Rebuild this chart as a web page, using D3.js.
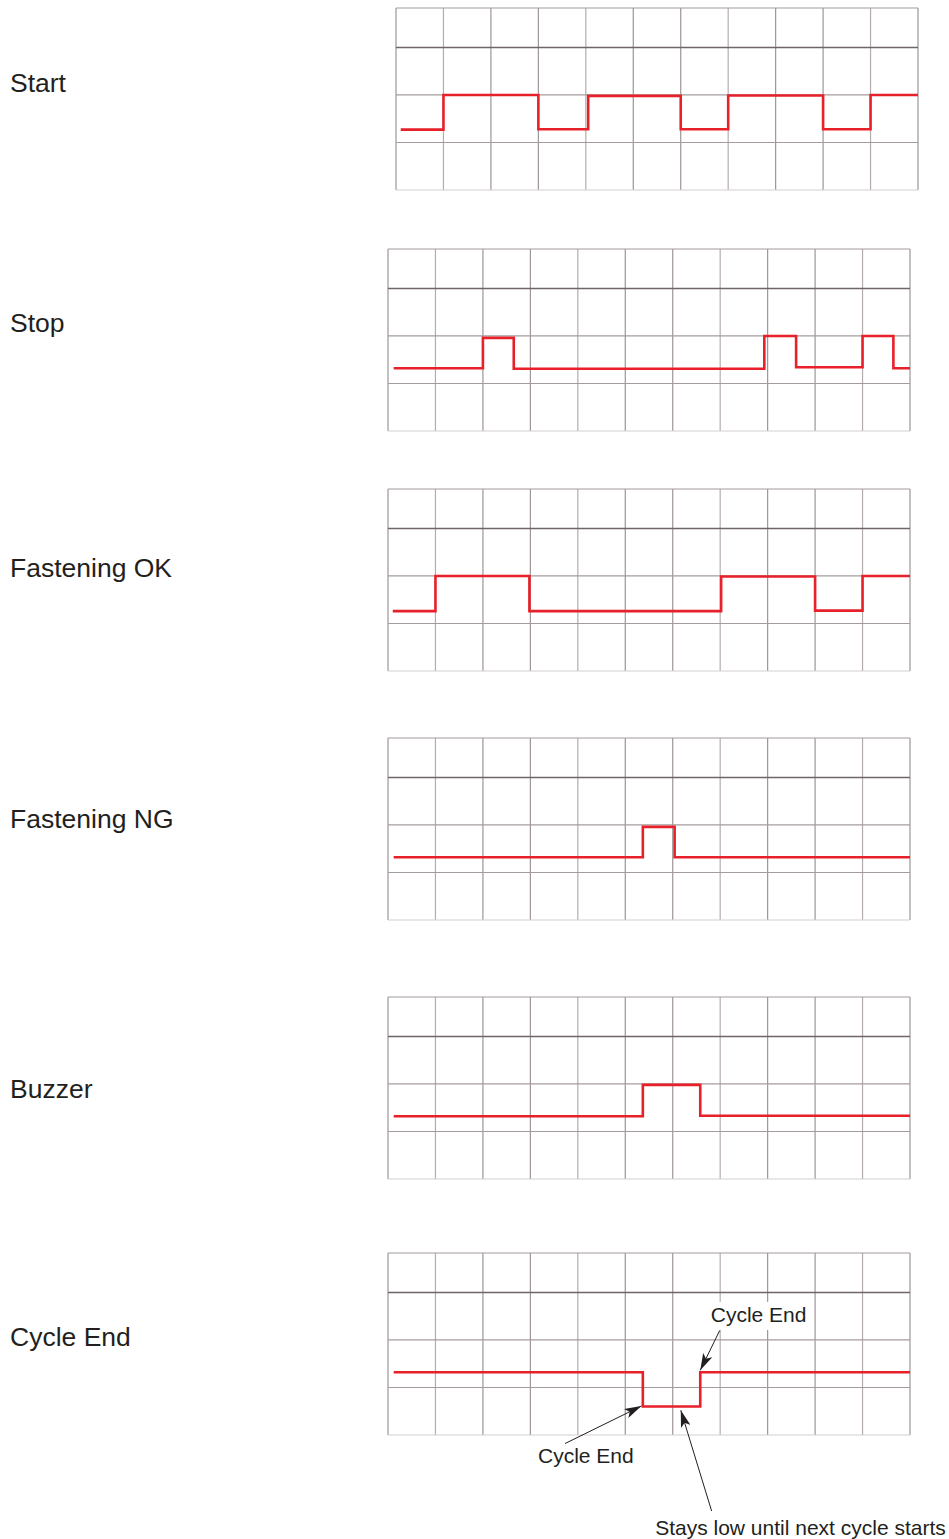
<!DOCTYPE html>
<html>
<head>
<meta charset="utf-8">
<script src="https://cdn.jsdelivr.net/npm/d3@7"></script>
<style>
  html, body { margin: 0; padding: 0; background: #fff; }
  svg { display: block; }
  text { font-family: "Liberation Sans", Arial, Helvetica, sans-serif; fill: #231f20; }
</style>
</head>
<body>
<svg id="chart" width="949" height="1539"></svg>
<script>
// ---------------- DATA ----------------
const signalNames = ["Start", "Stop", "Fastening OK", "Fastening NG", "Buzzer", "Cycle End"];

// grid divisions (time columns) and level gridlines
const timeTicks = [0, 1, 2, 3, 4, 5, 6, 7, 8, 9, 10, 11];
const levelTicks = [0, 1, 2, 3];
const levelMax = 3.83;

// step breakpoints: [time (grid divisions), level (grid divisions)]
const startSteps = [[0.1, 1.27], [1.0, 2.0], [3.0, 1.28], [4.05, 1.98], [6.0, 1.28], [7.0, 1.99], [9.0, 1.28], [10.0, 2.0], [11.0, 2.0]];
const stopSteps = [[0.12, 1.32], [2.0, 1.96], [2.65, 1.31], [7.93, 2.0], [8.6, 1.34], [10.0, 2.0], [10.65, 1.32], [11.0, 1.32]];
const fastenOkSteps = [[0.1, 1.26], [1.0, 2.0], [2.98, 1.26], [7.02, 1.99], [9.0, 1.27], [10.0, 2.0], [11.0, 2.0]];
const fastenNgSteps = [[0.12, 1.32], [5.37, 1.96], [6.04, 1.32], [11.0, 1.32]];
const buzzerSteps = [[0.12, 1.32], [5.37, 1.98], [6.58, 1.33], [11.0, 1.33]];
const cycleEndSteps = [[0.12, 1.32], [5.37, 0.6], [6.58, 1.32], [11.0, 1.32]];

const allSteps = [startSteps, stopSteps, fastenOkSteps, fastenNgSteps, buzzerSteps, cycleEndSteps];

const annotationTexts = ["Cycle End", "Cycle End", "Stays low until next cycle starts"];

// ---------------- LAYOUT ----------------
const panelLayout = [
  { left: 396, top: 8,    labelBaseline: 92 },
  { left: 388, top: 249,  labelBaseline: 332 },
  { left: 388, top: 489,  labelBaseline: 577 },
  { left: 388, top: 738,  labelBaseline: 828 },
  { left: 388, top: 997,  labelBaseline: 1098 },
  { left: 388, top: 1253, labelBaseline: 1346 }
];
const panelW = 522, panelH = 182;

// annotation geometry in data units of the last panel
const annotationLayout = [
  { tx: 7.81, ty: 2.38, anchor: "middle", box: true,  from: [6.99, 2.2],  to: [6.58, 1.36] },
  { tx: 4.17, ty: -0.58, anchor: "middle", box: false, from: [3.73, -0.18], to: [5.34, 0.61] },
  { tx: 5.63, ty: -2.1, anchor: "start",  box: false, from: [6.82, -1.6],  to: [6.17, 0.52] }
];

const svg = d3.select("#chart");
const defs = svg.append("defs");
defs.append("marker")
  .attr("id", "arrow")
  .attr("viewBox", "0 0 17 10")
  .attr("refX", 17).attr("refY", 5)
  .attr("markerWidth", 17).attr("markerHeight", 10)
  .attr("markerUnits", "userSpaceOnUse")
  .attr("orient", "auto")
  .append("path")
  .attr("d", "M0,0 L17,5 L0,10 L4,5 Z")
  .attr("fill", "#231f20");

signalNames.forEach((name, i) => {
  const L = panelLayout[i];
  const x = d3.scaleLinear().domain([0, 11]).range([L.left, L.left + panelW]);
  const y = d3.scaleLinear().domain([0, levelMax]).range([L.top + panelH, L.top]);
  const g = svg.append("g");

  // vertical grid lines
  g.selectAll("line.v").data(timeTicks).enter().append("line")
    .attr("x1", d => x(d)).attr("x2", d => x(d))
    .attr("y1", y(0)).attr("y2", y(levelMax))
    .attr("stroke", (d, j) => (j % 3 === 1 ? "#b5adad" : "#9e9595"))
    .attr("stroke-width", 1.2);

  // horizontal grid lines
  g.selectAll("line.h").data(levelTicks.concat([levelMax])).enter().append("line")
    .attr("x1", x(0)).attr("x2", x(11))
    .attr("y1", d => y(d)).attr("y2", d => y(d))
    .attr("stroke", d => d === 3 ? "#6e6565" : (d === 0 ? "#d6d0d0" : "#a49c9c"))
    .attr("stroke-width", d => d === 3 ? 1.4 : 1.2);

  // signal
  const line = d3.line().x(d => x(d[0])).y(d => y(d[1])).curve(d3.curveStepAfter);
  g.append("path")
    .datum(allSteps[i])
    .attr("d", line)
    .attr("fill", "none")
    .attr("stroke", "#e8202a")
    .attr("stroke-width", 2.6)
    .attr("stroke-linejoin", "miter");

  // label
  svg.append("text")
    .attr("x", 10).attr("y", L.labelBaseline)
    .attr("font-size", 26.5)
    .text(name);

  // annotations on last panel
  if (i === signalNames.length - 1) {
    annotationTexts.forEach((t, k) => {
      const A = annotationLayout[k];
      if (A.box) {
        const w = 107, h = 28;
        svg.append("rect")
          .attr("x", x(A.tx) - w / 2).attr("y", y(A.ty) - 20)
          .attr("width", w).attr("height", h)
          .attr("fill", "#fff");
      }
      svg.append("line")
        .attr("x1", x(A.from[0])).attr("y1", y(A.from[1]))
        .attr("x2", x(A.to[0])).attr("y2", y(A.to[1]))
        .attr("stroke", "#231f20").attr("stroke-width", 1)
        .attr("marker-end", "url(#arrow)");
      svg.append("text")
        .attr("x", x(A.tx)).attr("y", y(A.ty))
        .attr("text-anchor", A.anchor)
        .attr("font-size", 21)
        .text(t);
    });
  }
});
</script>
</body>
</html>
